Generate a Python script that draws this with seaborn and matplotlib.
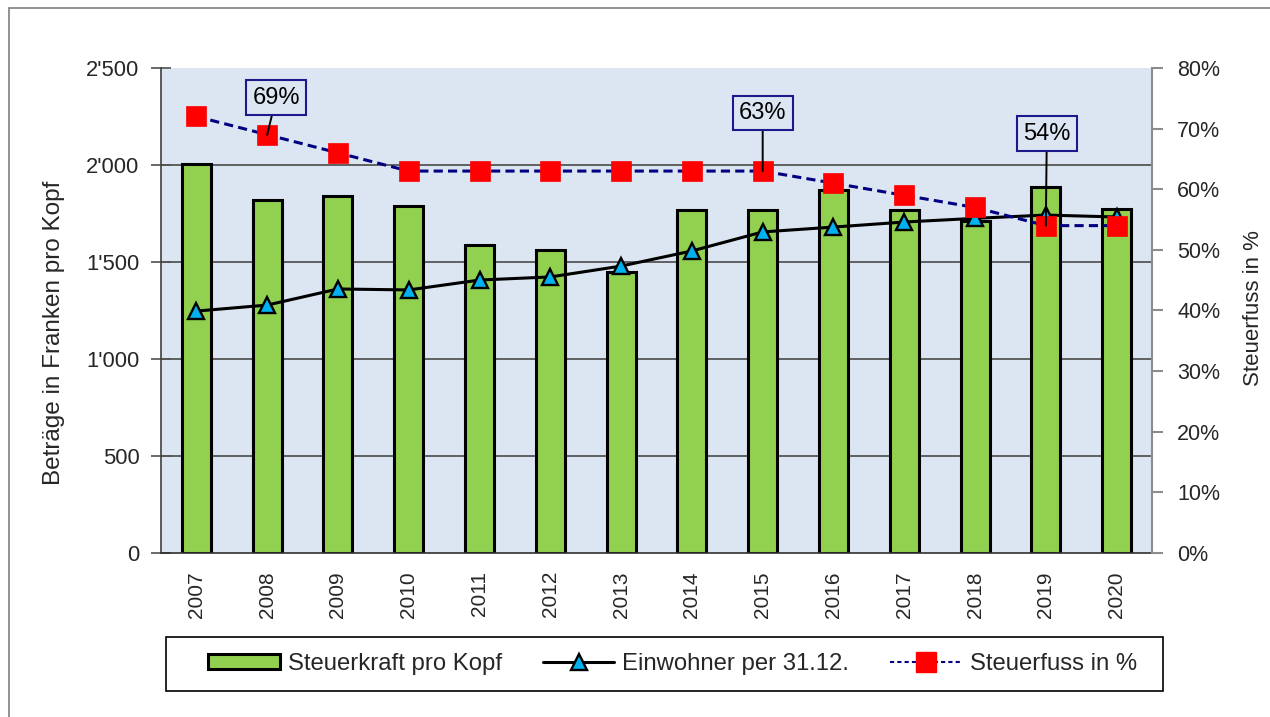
import matplotlib
matplotlib.use("Agg")
import matplotlib.pyplot as plt
import seaborn as sns
import numpy as np
import pandas as pd
from matplotlib.patches import Rectangle, Patch
from matplotlib.lines import Line2D

# ---------------- data ----------------
years = ['2007', '2008', '2009', '2010', '2011', '2012', '2013',
         '2014', '2015', '2016', '2017', '2018', '2019', '2020']
steuerkraft = [2005, 1820, 1840, 1790, 1588, 1562, 1450,
               1768, 1768, 1871, 1770, 1712, 1887, 1773]
einwohner = [1247, 1278, 1361, 1356, 1407, 1423, 1479,
             1557, 1655, 1680, 1706, 1725, 1742, 1732]
steuerfuss = [72, 69, 66, 63, 63, 63, 63, 63, 63, 61, 59, 57, 54, 54]

callout_years = ['2008', '2015', '2019']
callout_labels = ['69%', '63%', '54%']

left_ticks = [0, 500, 1000, 1500, 2000, 2500]
left_tick_labels = ['0', '500', "1'000", "1'500", "2'000", "2'500"]
right_ticks = [0, 10, 20, 30, 40, 50, 60, 70, 80]
right_tick_labels = ['0%', '10%', '20%', '30%', '40%', '50%', '60%', '70%', '80%']

series_names = ['Steuerkraft pro Kopf', 'Einwohner per 31.12.', 'Steuerfuss in %']
left_label = 'Beträge in Franken pro Kopf'
right_label = 'Steuerfuss in %'

# ---------------- style ----------------
sns.set_style('white')
REG = ['Liberation Sans', 'DejaVu Sans']
plt.rcParams['font.family'] = REG

BG = '#DCE6F2'
GREEN = '#92D050'
CYAN = '#00B0F0'
NAVY = '#000080'
RED = '#FF0000'

df = pd.DataFrame({'Jahr': years, 'Steuerkraft': steuerkraft,
                   'Einwohner': einwohner, 'Steuerfuss': steuerfuss})
n = len(df)

W, H = 1270, 717
fig = plt.figure(figsize=(W / 100, H / 100), dpi=100)
fig.patch.set_facecolor('white')
ax = fig.add_axes([161 / W, 1 - 553 / H, 991 / W, 485 / H])
ax.set_facecolor(BG)

# horizontal grid lines (not at the top edge)
for v in left_ticks[1:-1]:
    ax.axhline(v, color='#555555', linewidth=1.3, zorder=1)

# bars
sns.barplot(data=df, x='Jahr', y='Steuerkraft', color=GREEN, saturation=1,
            width=0.41, edgecolor='black', linewidth=2.2, ax=ax, zorder=2)

# Einwohner line (left axis)
sns.pointplot(data=df, x='Jahr', y='Einwohner', ax=ax, color='black',
              markers='^', linestyles='-', errorbar=None,
              linewidth=2.2, markersize=12, markerfacecolor=CYAN,
              markeredgecolor='black', markeredgewidth=1.7, zorder=4)

ax.set_ylim(0, 2500)
ax.grid(False)

# Steuerfuss (right axis)
ax2 = ax.twinx()
sns.pointplot(data=df, x='Jahr', y='Steuerfuss', ax=ax2, color=NAVY,
              markers='s', linestyles='--', errorbar=None,
              linewidth=2.2, dashes=(3, 1.7), markersize=14,
              markerfacecolor=RED, markeredgecolor=RED, markeredgewidth=0.5,
              zorder=5)
ax2.set_ylim(0, 80)
ax2.grid(False)

# callouts
callout_offsets = [(9, 37), (0, 58), (1, 92)]
for yr, txt, off in zip(callout_years, callout_labels, callout_offsets):
    i = years.index(yr)
    ax2.annotate(txt, xy=(i, steuerfuss[i]), xytext=off,
                 textcoords='offset pixels', ha='center', va='center',
                 fontsize=17, family=REG, color='black', zorder=7,
                 bbox=dict(boxstyle='square,pad=0.27', fc=BG, ec='#1A1A8C', lw=1.5),
                 arrowprops=dict(arrowstyle='-', color='black', lw=1.4,
                                 shrinkA=0, shrinkB=0))

# axes / ticks
ax.set_xlim(-0.5, n - 0.5)
ax.set_xticks(np.arange(n), labels=years, rotation=90, fontsize=15, family=REG)
ax.set_xticks(np.arange(-0.5, n, 1), minor=True)
ax.tick_params(axis='x', which='major', length=0, pad=13)
ax.tick_params(axis='x', which='minor', length=8, direction='out',
               color='#404040', width=1.2)
ax.set_xlabel('')

ax.set_yticks(left_ticks, labels=left_tick_labels, fontsize=15.8, family=REG)
ax.tick_params(axis='y', which='major', direction='inout', length=15,
               width=1.2, color='#505050', pad=8)
ax.set_ylabel(left_label, fontsize=17.5, family=REG)
ax.yaxis.set_label_coords(-0.097, 0.455)

ax2.set_yticks(right_ticks, labels=right_tick_labels, fontsize=15.5, family=REG)
ax2.tick_params(axis='y', which='major', direction='out', length=8,
                width=1.5, color='#8c8c8c', pad=10)
ax2.set_ylabel(right_label, fontsize=16, family=REG)
ax2.yaxis.set_label_coords(1.092, 0.505)

for s in ['top', 'right']:
    ax.spines[s].set_visible(False)
ax.spines['left'].set_color('#404040')
ax.spines['left'].set_linewidth(1.2)
ax.spines['bottom'].set_color('#303030')
ax.spines['bottom'].set_linewidth(1.2)
for s in ['top', 'left', 'bottom']:
    ax2.spines[s].set_visible(False)
ax2.spines['right'].set_color('#8c8c8c')
ax2.spines['right'].set_linewidth(1.5)

# legend
fig.add_artist(Rectangle((166 / W, 1 - 691 / H), 997 / W, 54 / H,
                         transform=fig.transFigure, fc='white', ec='black',
                         lw=1.2, zorder=4))
handles = [
    Patch(facecolor=GREEN, edgecolor='black', linewidth=2.2),
    Line2D([], [], color='black', lw=2.2, marker='^', markersize=12,
           markerfacecolor=CYAN, markeredgecolor='black', markeredgewidth=1.7),
    Line2D([], [], color=NAVY, lw=1.5, linestyle=(0, (2, 1.5)), marker='s',
           markersize=14, markerfacecolor=RED, markeredgecolor=RED),
]
fig.legend(handles, series_names, loc='center',
           bbox_to_anchor=(672.5 / W, 1 - 664 / H), ncol=3, frameon=False,
           prop={'family': REG, 'size': 17.2}, handlelength=3.0,
           handleheight=0.64, handletextpad=0.34, columnspacing=1.7)

# outer frame
fig.add_artist(Rectangle((9 / W, -0.05), 1.2, (H - 8) / H + 0.05,
                         transform=fig.transFigure, fill=False,
                         ec='#7f7f7f', lw=1.2, clip_on=False, zorder=10))

fig.savefig('out.png', dpi=100, facecolor='white')
